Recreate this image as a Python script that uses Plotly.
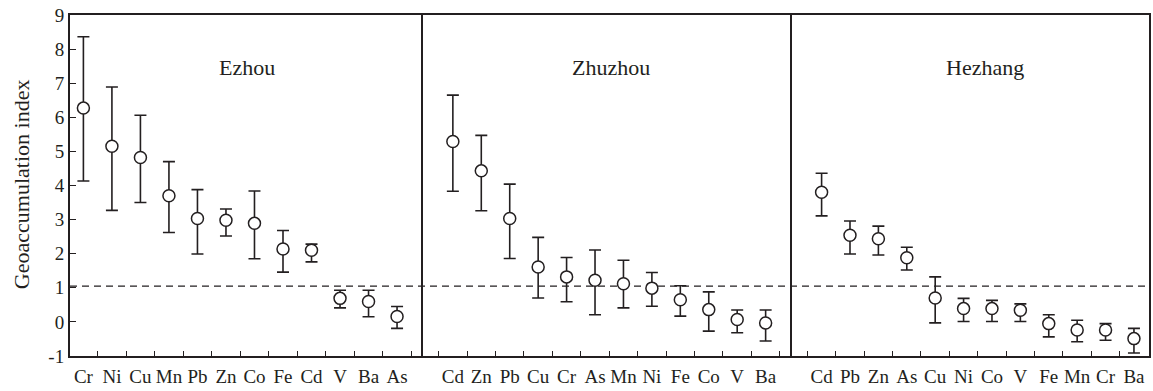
import plotly.graph_objects as go
from plotly.subplots import make_subplots

# ---------------- data ----------------
sites = ["Ezhou", "Zhuzhou", "Hezhang"]

ezhou_elements = ["Cr", "Ni", "Cu", "Mn", "Pb", "Zn", "Co", "Fe", "Cd", "V", "Ba", "As"]
ezhou_mean = [6.27, 5.15, 4.82, 3.70, 3.03, 2.98, 2.89, 2.14, 2.10, 0.69, 0.60, 0.16]
ezhou_upper = [8.36, 6.89, 6.06, 4.70, 3.88, 3.31, 3.84, 2.68, 2.28, 0.93, 0.93, 0.45]
ezhou_lower = [4.13, 3.27, 3.50, 2.62, 1.99, 2.52, 1.85, 1.46, 1.76, 0.41, 0.15, -0.19]

zhuzhou_elements = ["Cd", "Zn", "Pb", "Cu", "Cr", "As", "Mn", "Ni", "Fe", "Co", "V", "Ba"]
zhuzhou_mean = [5.29, 4.43, 3.03, 1.61, 1.32, 1.22, 1.12, 0.99, 0.65, 0.36, 0.07, -0.03]
zhuzhou_upper = [6.65, 5.47, 4.04, 2.48, 1.89, 2.11, 1.81, 1.45, 1.06, 0.88, 0.35, 0.35]
zhuzhou_lower = [3.83, 3.26, 1.86, 0.70, 0.59, 0.21, 0.41, 0.46, 0.17, -0.27, -0.32, -0.56]

hezhang_elements = ["Cd", "Pb", "Zn", "As", "Cu", "Ni", "Co", "V", "Fe", "Mn", "Cr", "Ba"]
hezhang_mean = [3.80, 2.54, 2.44, 1.88, 0.70, 0.39, 0.39, 0.34, -0.05, -0.24, -0.24, -0.49]
hezhang_upper = [4.36, 2.96, 2.81, 2.19, 1.32, 0.69, 0.63, 0.53, 0.21, 0.05, -0.05, -0.19]
hezhang_lower = [3.11, 1.99, 1.96, 1.52, -0.03, 0.01, 0.01, 0.01, -0.44, -0.58, -0.54, -0.91]

threshold = 1.05
y_ticks = [-1, 0, 1, 2, 3, 4, 5, 6, 7, 8, 9]
y_tick_labels = ["-1", "0", "1", "2", "3", "4", "5", "6", "7", "8", "9"]

# ---------------- style ----------------
FONT = "Liberation Serif"
INK = "#231f20"

W, H = 1153, 391
L, R, T, B = 70, 4, 15, 35
plot_w = W - L - R
edges_px = [70, 423, 791.5, 1149]
col_w = [(edges_px[i + 1] - edges_px[i]) for i in range(3)]

fig = make_subplots(rows=1, cols=3, shared_yaxes=True, horizontal_spacing=0,
                    column_widths=col_w)

panels = [
    (ezhou_elements, ezhou_mean, ezhou_upper, ezhou_lower, [-0.47, 11.91]),
    (zhuzhou_elements, zhuzhou_mean, zhuzhou_upper, zhuzhou_lower, [-1.05, 11.91]),
    (hezhang_elements, hezhang_mean, hezhang_upper, hezhang_lower, [-1.06, 11.53]),
]
label_pos = [0.5, 0.51, 0.54]

for i, (els, mean, up, lo, rng) in enumerate(panels):
    col = i + 1
    fig.add_trace(go.Scatter(
        x=els, y=mean, mode="markers",
        marker=dict(symbol="circle", size=12, color="white",
                    line=dict(color=INK, width=1.5)),
        error_y=dict(type="data", symmetric=False,
                     array=[u - m for u, m in zip(up, mean)],
                     arrayminus=[m - l for m, l in zip(mean, lo)],
                     color=INK, thickness=1.6, width=6),
        showlegend=False, hoverinfo="x+y",
    ), row=1, col=col)
    fig.update_xaxes(
        type="category", range=rng, tickson="boundaries",
        ticks="inside", ticklen=5, tickwidth=1.3, tickcolor=INK,
        showline=True, linecolor=INK, linewidth=1.6, mirror=True,
        showgrid=False, zeroline=False, tickangle=0, automargin=False,
        tickfont=dict(family=FONT, size=19, color=INK),
        ticklabelstandoff=2,
        row=1, col=col)
    fig.update_yaxes(
        range=[-1, 9], showline=True, linecolor=INK, linewidth=1.6,
        mirror=(col == 3), showgrid=False, zeroline=False, automargin=False,
        row=1, col=col)
    fig.add_annotation(
        text=sites[i], xref=f"x{'' if col == 1 else col} domain", x=label_pos[i],
        yref="y", y=7.45, showarrow=False,
        font=dict(family=FONT, size=22, color=INK),
        xanchor="center", yanchor="middle")

fig.update_yaxes(tickvals=y_ticks, ticktext=y_tick_labels, ticks="inside",
                 ticklen=6, tickwidth=1.3, tickcolor=INK,
                 tickfont=dict(family=FONT, size=19, color=INK),
                 ticklabelstandoff=0, linewidth=2, row=1, col=1)
fig.update_yaxes(ticks="", showticklabels=False, row=1, col=2)
fig.update_yaxes(ticks="", showticklabels=False, row=1, col=3)

fig.add_shape(type="line", xref="paper", yref="y", x0=0, x1=1,
              y0=threshold, y1=threshold,
              line=dict(color=INK, width=1.4, dash="7px,5px"), layer="below")

fig.add_annotation(
    text="Geoaccumulation index", xref="paper", yref="paper",
    x=(21 - L) / plot_w, y=0.504, textangle=-90, showarrow=False,
    xanchor="center", yanchor="middle",
    font=dict(family=FONT, size=22, color=INK))

fig.update_layout(
    width=W, height=H,
    margin=dict(l=L, r=R, t=T, b=B),
    paper_bgcolor="white", plot_bgcolor="white",
    font=dict(family=FONT, color=INK),
)

fig.write_html("out.html")
